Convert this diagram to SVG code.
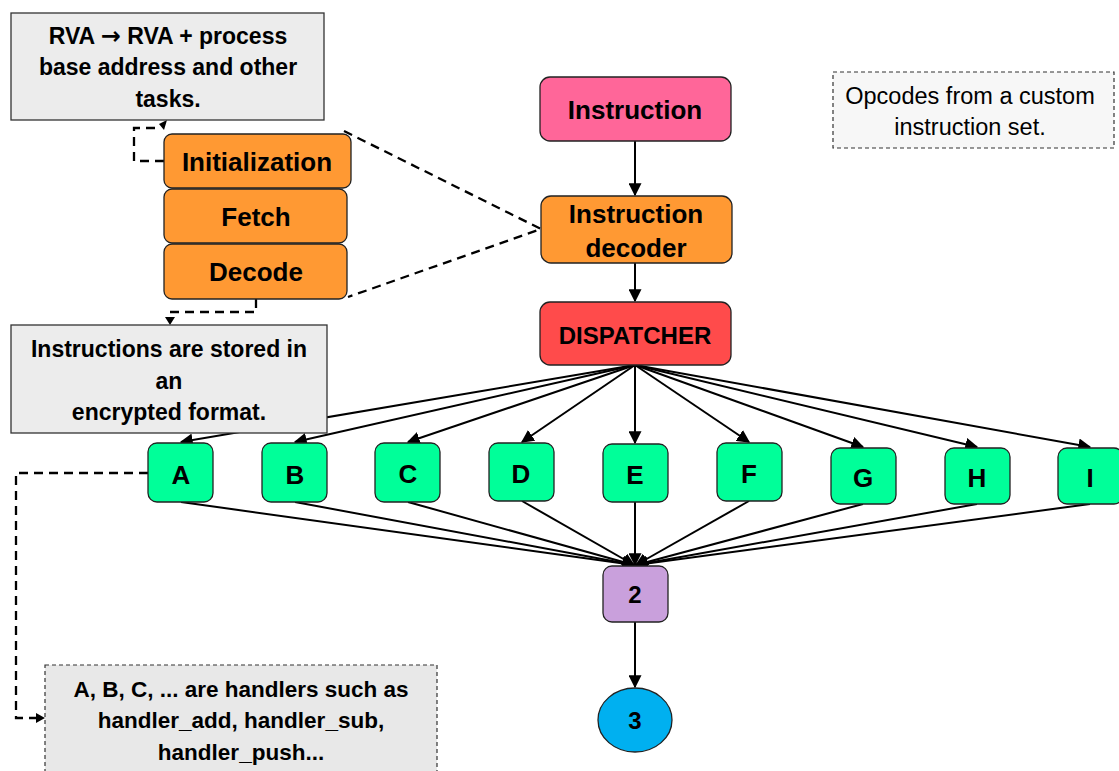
<svg xmlns="http://www.w3.org/2000/svg" width="1119" height="771" viewBox="0 0 1119 771">
<style>
text{font-family:"Liberation Sans",Arial,sans-serif;text-anchor:middle;fill:#000}
.b{font-weight:bold}
.t23{font-size:23px}
.t26{font-size:26px}
.g{font-size:26px;font-weight:bold}
.n{font-size:24px;font-weight:bold}
.node{stroke:#222;stroke-width:1.3}
.note{fill:#ececec;stroke:#333;stroke-width:1.3}
.dnote{stroke:#333;stroke-width:1.2;stroke-dasharray:4,3}
.ln{stroke:#000;stroke-width:2;fill:none}
.dash{stroke:#000;stroke-width:2.3;fill:none;stroke-dasharray:9,6}
.green{fill:#00FF99}
</style>
<defs>
<marker id="ah" viewBox="0 0 10 10" refX="9" refY="5" markerWidth="6.5" markerHeight="6.5" orient="auto" markerUnits="strokeWidth">
<path d="M0,0 L10,5 L0,10 z" fill="#000"/>
</marker>
</defs>

<g id="connectors">
<line class="ln" x1="635" y1="141" x2="635" y2="195" marker-end="url(#ah)"/>
<line class="ln" x1="635" y1="263" x2="635" y2="301" marker-end="url(#ah)"/>
<line class="ln" x1="635" y1="365" x2="181" y2="442" marker-end="url(#ah)"/>
<line class="ln" x1="635" y1="365" x2="295" y2="442" marker-end="url(#ah)"/>
<line class="ln" x1="635" y1="365" x2="408" y2="442" marker-end="url(#ah)"/>
<line class="ln" x1="635" y1="365" x2="522" y2="442" marker-end="url(#ah)"/>
<line class="ln" x1="635" y1="365" x2="635" y2="443" marker-end="url(#ah)"/>
<line class="ln" x1="635" y1="365" x2="749" y2="442" marker-end="url(#ah)"/>
<line class="ln" x1="635" y1="365" x2="863" y2="447" marker-end="url(#ah)"/>
<line class="ln" x1="635" y1="365" x2="977" y2="447" marker-end="url(#ah)"/>
<line class="ln" x1="635" y1="365" x2="1090" y2="447" marker-end="url(#ah)"/>
<line class="ln" x1="181" y1="502" x2="634" y2="565" marker-end="url(#ah)"/>
<line class="ln" x1="295" y1="502" x2="634" y2="565" marker-end="url(#ah)"/>
<line class="ln" x1="408" y1="502" x2="634" y2="565" marker-end="url(#ah)"/>
<line class="ln" x1="522" y1="501" x2="634" y2="565" marker-end="url(#ah)"/>
<line class="ln" x1="635" y1="502" x2="635" y2="565" marker-end="url(#ah)"/>
<line class="ln" x1="749" y1="501" x2="636" y2="565" marker-end="url(#ah)"/>
<line class="ln" x1="863" y1="504" x2="636" y2="565" marker-end="url(#ah)"/>
<line class="ln" x1="977" y1="504" x2="636" y2="565" marker-end="url(#ah)"/>
<line class="ln" x1="1090" y1="504" x2="636" y2="565" marker-end="url(#ah)"/>
<line class="ln" x1="635" y1="622" x2="635" y2="687" marker-end="url(#ah)"/>
<path class="dash" d="M164,161 H134 V128 H160" />
<path d="M159,124 L167,120 L164,130 z" fill="#000"/>
<path class="dash" d="M256,299 V312 H170 V318"/>
<path d="M165,317 L175,317 L170,325 z" fill="#000"/>
<path class="dash" d="M344,131 L541,229 L348,297"/>
<path class="dash" d="M148,473 H16 V718 H36"/>
<path d="M36,713 L45,718 L36,723 z" fill="#000"/>
</g>

<g id="note-rva">
<rect class="note" x="11" y="13" width="313" height="107"/>
<text class="b t23" x="168" y="44">RVA <tspan style="font-family:'DejaVu Sans',sans-serif;font-size:24px">→</tspan> RVA + process</text>
<text class="b t23" x="168" y="75">base address and other</text>
<text class="b t23" x="168" y="107">tasks.</text>
</g>

<g id="initialization">
<rect class="node" x="164" y="134" width="187" height="54" rx="8" fill="#FF9933"/>
<text class="b t26" x="257" y="171">Initialization</text>
</g>
<g id="fetch">
<rect class="node" x="164" y="189" width="183" height="54" rx="8" fill="#FF9933"/>
<text class="b t26" x="256" y="226">Fetch</text>
</g>
<g id="decode">
<rect class="node" x="164" y="244" width="183" height="55" rx="8" fill="#FF9933"/>
<text class="b t26" x="256" y="281">Decode</text>
</g>

<g id="note-encrypted">
<rect class="note" x="11" y="325" width="316" height="108"/>
<text class="b t23" x="169" y="357">Instructions are stored in</text>
<text class="b t23" x="169" y="389">an</text>
<text class="b t23" x="169" y="420">encrypted format.</text>
</g>

<g id="instruction">
<rect class="node" x="540" y="77" width="191" height="64" rx="10" fill="#FF6699"/>
<text class="b t26" x="635" y="119">Instruction</text>
</g>
<g id="decoder">
<rect class="node" x="541" y="196" width="191" height="67" rx="10" fill="#FF9933"/>
<text class="b t26" x="636" y="223">Instruction</text>
<text class="b t26" x="636" y="257">decoder</text>
</g>
<g id="dispatcher">
<rect class="node" x="540" y="302" width="191" height="63" rx="10" fill="#FF4B4B"/>
<text class="b" style="font-size:24px" x="635" y="344">DISPATCHER</text>
</g>

<g id="note-opcodes">
<rect class="dnote" x="833" y="72" width="281" height="76" fill="#f7f7f7"/>
<text style="font-size:23.5px" x="970" y="104">Opcodes from a custom</text>
<text style="font-size:23.5px" x="970" y="135">instruction set.</text>
</g>

<g id="A"><rect class="node green" x="148" y="443" width="65" height="59" rx="9"/><text class="g" x="181" y="484">A</text></g>
<g id="B"><rect class="node green" x="262" y="443" width="65" height="59" rx="9"/><text class="g" x="295" y="484">B</text></g>
<g id="C"><rect class="node green" x="375" y="443" width="65" height="59" rx="9"/><text class="g" x="408" y="483">C</text></g>
<g id="D"><rect class="node green" x="489" y="443" width="65" height="58" rx="9"/><text class="g" x="521" y="483">D</text></g>
<g id="E"><rect class="node green" x="603" y="444" width="65" height="58" rx="9"/><text class="g" x="635" y="484">E</text></g>
<g id="F"><rect class="node green" x="717" y="443" width="65" height="58" rx="9"/><text class="g" x="749" y="483">F</text></g>
<g id="G"><rect class="node green" x="831" y="448" width="65" height="56" rx="9"/><text class="g" x="863" y="487">G</text></g>
<g id="H"><rect class="node green" x="945" y="448" width="65" height="56" rx="9"/><text class="g" x="977" y="487">H</text></g>
<g id="I"><rect class="node green" x="1058" y="448" width="65" height="56" rx="9"/><text class="g" x="1090" y="487">I</text></g>

<g id="node-2">
<rect class="node" x="603" y="566" width="65" height="56" rx="9" fill="#C9A0DC"/>
<text class="n" x="635" y="603">2</text>
</g>
<g id="node-3">
<ellipse class="node" cx="635" cy="720" rx="37" ry="32" fill="#00B0F0"/>
<text class="n" x="635" y="729">3</text>
</g>

<g id="note-handlers">
<rect class="dnote" x="45" y="665" width="392" height="110" fill="#e8e8e8"/>
<text class="b" style="font-size:22.5px" x="241" y="697">A, B, C, ... are handlers such as</text>
<text class="b" style="font-size:22.5px" x="241" y="728">handler_add, handler_sub,</text>
<text class="b" style="font-size:22.5px" x="241" y="760">handler_push...</text>
</g>
</svg>
